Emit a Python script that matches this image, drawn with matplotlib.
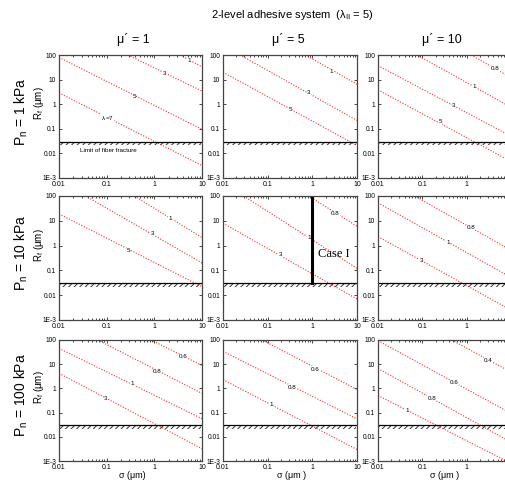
import matplotlib
matplotlib.use("Agg")
import matplotlib.pyplot as plt

plt.rcParams['font.family'] = ['Liberation Sans', 'DejaVu Sans']
plt.rcParams['mathtext.fontset'] = 'custom'
plt.rcParams['mathtext.rm'] = 'Liberation Sans'
plt.rcParams['mathtext.it'] = 'Liberation Sans:italic'
plt.rcParams['hatch.linewidth'] = 0.7

# axis ranges and tick labels
x_ticks = [0.01, 0.1, 1, 10]
x_ticklabels = ["0.01", "0.1", "1", "10"]
y_ticks = [1e-3, 0.01, 0.1, 1, 10, 100]
y_ticklabels = ["1E-3", "0.01", "0.1", "1", "10", "100"]
fracture_limit = 0.03

row_labels = ["P$_\\mathrm{n}$ = 1 kPa", "P$_\\mathrm{n}$ = 10 kPa", "P$_\\mathrm{n}$ = 100 kPa"]
col_titles = ["\u03bc\u00b4 = 1", "\u03bc\u00b4 = 5", "\u03bc\u00b4 = 10"]
x_labels = ["\u03c3 (\u03bcm)", "\u03c3 (\u03bcm )", "\u03c3 (\u03bcm )"]

# each curve: label, (x start, y start), (x end, y end), (label x, label y)
curves_p1_m1 = [("1", (3.5, 100), (10, 33), (5.5, 58)),
                ("3", (0.28, 100), (10, 3.4), (1.64, 17)),
                ("5", (0.01, 80), (10, 0.095), (0.38, 2.0)),
                ("\u03bb$_{\u2009}$=7", (0.01, 2.9), (10, 0.0032), (0.104, 0.27))]
curves_p1_m5 = [("1", (0.7, 100), (10, 6.5), (2.7, 21)),
                ("3", (0.024, 100), (10, 0.22), (0.83, 3.0)),
                ("5", (0.01, 20), (10, 0.021), (0.32, 0.6))]
curves_p1_m10 = [("0.8", (1.26, 100), (10, 12), (4.3, 28)),
                 ("1", (0.076, 100), (10, 0.75), (1.46, 5.3)),
                 ("3", (0.01, 37), (10, 0.05), (0.51, 0.85)),
                 ("5", (0.01, 3.8), (10, 0.0047), (0.25, 0.19))]
curves_p10_m1 = [("1", (0.38, 100), (10, 2.1), (2.2, 12.5)),
                 ("3", (0.036, 100), (10, 0.2), (0.92, 3.0)),
                 ("5", (0.01, 19), (10, 0.022), (0.28, 0.63))]
curves_p10_m5 = [("0.8", (0.83, 100), (10, 6), (3.2, 19)),
                 ("1", (0.029, 100), (10, 0.12), (0.83, 2.2)),
                 ("3", (0.01, 8), (10, 0.007), (0.19, 0.42))]
curves_p10_m10 = [("0.8", (0.067, 100), (10, 0.65), (1.23, 5.2)),
                  ("1", (0.01, 53), (10, 0.052), (0.38, 1.35)),
                  ("3", (0.01, 2.3), (10, 0.0025), (0.095, 0.25))]
curves_p100_m1 = [("0.6", (0.85, 100), (10, 8.9), (4.0, 20)),
                  ("0.8", (0.065, 100), (10, 0.62), (1.17, 4.8)),
                  ("1", (0.01, 45), (10, 0.056), (0.35, 1.55)),
                  ("3", (0.01, 4.2), (10, 0.0032), (0.096, 0.4))]
curves_p100_m5 = [("0.6", (0.075, 100), (10, 0.9), (1.17, 6.2)),
                  ("0.8", (0.01, 34), (10, 0.055), (0.36, 1.1)),
                  ("1", (0.01, 2.3), (10, 0.003), (0.12, 0.22))]
curves_p100_m10 = [("0.4", (0.46, 100), (10, 4.7), (3.1, 14.5)),
                   ("0.6", (0.01, 94), (10, 0.093), (0.52, 1.75)),
                   ("0.8", (0.01, 6.6), (10, 0.006), (0.165, 0.4)),
                   ("1", (0.01, 0.51), (10, 0.0008), (0.046, 0.125))]

panel_curves = [[curves_p1_m1, curves_p1_m5, curves_p1_m10],
                [curves_p10_m1, curves_p10_m5, curves_p10_m10],
                [curves_p100_m1, curves_p100_m5, curves_p100_m10]]

# "Case I" marker in the middle panel
case_x = 1.0
case_top = 100

W, H = 506, 482
col_left = [59, 223, 378]
col_width = [143, 134, 133]
row_top = [55, 196, 340]
row_height = [123, 124, 121]

fig = plt.figure(figsize=(W / 100, H / 100), dpi=100)

for r in range(3):
    for c in range(3):
        ax = fig.add_axes([col_left[c] / W, 1 - (row_top[r] + row_height[r]) / H,
                           col_width[c] / W, row_height[r] / H])
        ax.set_xscale('log')
        ax.set_yscale('log')
        ax.set_xlim(0.01, 10)
        ax.set_ylim(1e-3, 100)
        ax.set_xticks(x_ticks)
        # the right column runs past the edge of the picture, its "10" is not shown
        xl = x_ticklabels if c < 2 else x_ticklabels[:-1] + [""]
        ax.set_xticklabels(xl, fontsize=5)
        ax.set_yticks(y_ticks)
        ax.set_yticklabels(y_ticklabels, fontsize=4.8)
        ax.tick_params(which='both', direction='in', top=True, right=True,
                       width=0.5, pad=2)
        ax.tick_params(which='major', length=2.5)
        ax.tick_params(which='minor', length=1.3)
        for s in ax.spines.values():
            s.set_linewidth(0.9)
            s.set_color('#444444')

        for lab, p0, p1, pl in panel_curves[r][c]:
            ax.plot([p0[0], p1[0]], [p0[1], p1[1]], color='red', ls=(0, (1, 1.5)),
                    lw=0.8, alpha=0.85)
            ax.text(pl[0], pl[1], lab, fontsize=4.5, ha='center', va='center',
                    bbox=dict(facecolor='white', edgecolor='none', pad=0.3))

        # fracture limit: solid line with hatching underneath
        ax.axhline(fracture_limit, color='black', lw=0.9)
        ax.fill_between([0.0105, 9.7], fracture_limit * 0.72, fracture_limit,
                        facecolor='none', edgecolor='#333333', hatch='//////', lw=0)

        if r == 0 and c == 0:
            ax.text(0.028, 0.0135, "Limit of fiber fracture", fontsize=4.5,
                    ha='left', va='center')
        if r == 1 and c == 1:
            ax.plot([case_x, case_x], [fracture_limit, case_top], color='black', lw=2.2)
            ax.text(1.35, 0.45, "Case I", fontsize=9, family='Liberation Serif',
                    ha='left', va='center')

fig.text(292 / W, 1 - 15 / H, "2-level adhesive system  (\u03bb$_{\\mathrm{II}}$ = 5)",
         fontsize=8, ha='center', va='center')
for c, t in enumerate(col_titles):
    fig.text((col_left[c] + [74, 65, 64][c]) / W, 1 - 40 / H, t, fontsize=9,
             ha='center', va='center')
for r, t in enumerate(row_labels):
    yc = 1 - (row_top[r] + row_height[r] / 2 - 5) / H
    fig.text(21 / W, yc, t, fontsize=10, rotation=90, ha='center', va='center')
    fig.text(39 / W, yc + 8 / H, "R$_\\mathrm{f}$ (\u03bcm)", fontsize=7, rotation=90,
             ha='center', va='center')
for c, t in enumerate(x_labels):
    fig.text((col_left[c] + [73, 69, 67][c]) / W, 1 - 475 / H, t, fontsize=6.5,
             ha='center', va='center')

fig.savefig("out.png", dpi=100)
